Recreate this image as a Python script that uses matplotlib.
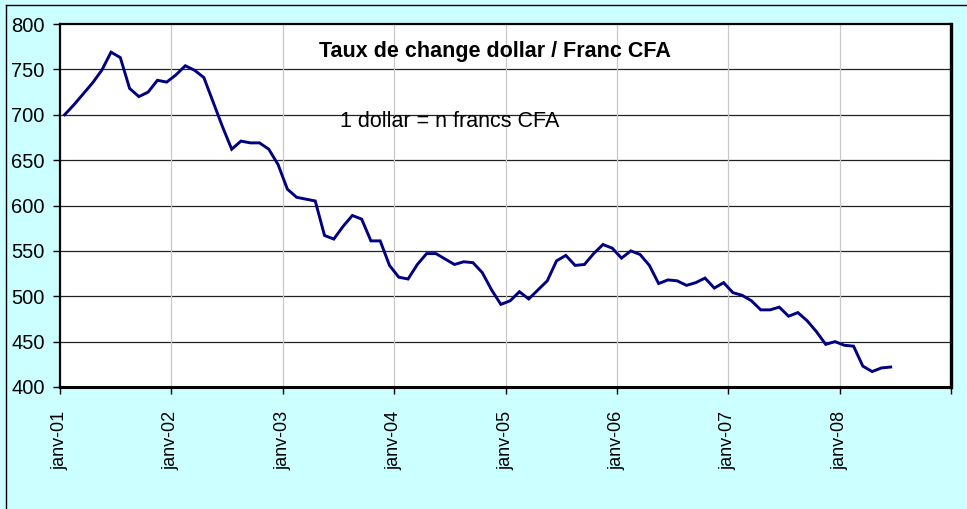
import matplotlib.pyplot as plt
from matplotlib.lines import Line2D

# monthly rate, janv-01 .. juin-08
rates = [
    700, 711, 723, 735, 749, 769, 763, 729, 720, 725, 738, 736,
    744, 754, 749, 741, 714, 687, 662, 671, 669, 669, 662, 645,
    618, 609, 607, 605, 567, 563, 577, 589, 585, 561, 561, 534,
    521, 519, 535, 547, 547, 541, 535, 538, 537, 526, 507, 491,
    495, 505, 497, 507, 517, 539, 545, 534, 535, 547, 557, 553,
    542, 550, 546, 534, 514, 518, 517, 512, 515, 520, 509, 515,
    504, 501, 495, 485, 485, 488, 478, 482, 473, 461, 447, 450,
    446, 445, 423, 417, 421, 422,
]
year_labels = ["janv-01", "janv-02", "janv-03", "janv-04",
               "janv-05", "janv-06", "janv-07", "janv-08", ""]
y_ticks = [400, 450, 500, 550, 600, 650, 700, 750, 800]

FONT = "Liberation Sans"


def main():
    fig = plt.figure(figsize=(9.67, 5.09), dpi=100, facecolor="#CCFFFF")
    ax = fig.add_axes([60 / 967, 1 - 387 / 509, 891 / 967, 363 / 509])
    ax.set_facecolor("white")

    months = [i + 0.5 for i in range(len(rates))]
    ax.plot(months, rates, color="#000080", lw=2.1, solid_joinstyle="miter")

    ax.set_xlim(0, 96)
    ax.set_ylim(400, 800)
    ax.set_xticks(range(0, 97, 12))
    ax.set_xticklabels(year_labels, rotation=90, fontsize=13, family=FONT)
    ax.set_yticks(y_ticks)
    ax.set_yticklabels([str(v) for v in y_ticks], fontsize=14.5, family=FONT)
    ax.tick_params(axis="x", length=5, width=1, direction="out", pad=12)
    ax.tick_params(axis="y", length=5, width=1, direction="out", pad=6)

    for v in y_ticks[1:-1]:
        ax.axhline(v, color="#222222", lw=0.9, zorder=1)
    for t in range(12, 96, 12):
        ax.axvline(t, color="#C8C8C8", lw=0.9, zorder=1)

    for s in ax.spines.values():
        s.set_linewidth(1.6)
        s.set_color("black")
    ax.spines["right"].set_linewidth(2.4)
    ax.spines["bottom"].set_linewidth(2.2)

    ax.text(0.488, 0.909, "Taux de change dollar / Franc CFA",
            transform=ax.transAxes, ha="center", va="baseline",
            fontsize=15.5, fontweight="bold", family=FONT)
    ax.text(0.4377, 0.717, "1 dollar = n francs CFA",
            transform=ax.transAxes, ha="center", va="baseline",
            fontsize=15.5, family=FONT)

    # chart area border
    fig.add_artist(Line2D([6 / 967, 1.0], [1 - 5 / 509, 1 - 5 / 509],
                          transform=fig.transFigure, color="black", lw=1))
    fig.add_artist(Line2D([6 / 967, 6 / 967], [0, 1 - 5 / 509],
                          transform=fig.transFigure, color="black", lw=1))

    fig.savefig("out.png", dpi=100, facecolor=fig.get_facecolor())
    plt.close(fig)


if __name__ == "__main__":
    main()
